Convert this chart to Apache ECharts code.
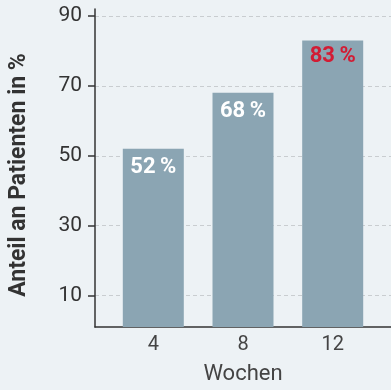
<!DOCTYPE html>
<html>
<head>
<meta charset="utf-8">
<script src="https://cdn.jsdelivr.net/npm/echarts@6/dist/echarts.min.js"></script>
<style>
  html, body { margin: 0; padding: 0; background: #edf2f5; }
  #chart { width: 391px; height: 390px; }
</style>
</head>
<body>
<div id="chart"></div>
<script>
// Weeks of treatment and share of patients (%)
const weeks = [4, 8, 12];
const shares = [52, 68, 83];
const yTicks = [10, 30, 50, 70, 90];
const highlightIndex = 2; // last value shown in red

const barColor = '#8ba5b3';
const red = '#d21c34';
const font = 'Roboto, "Noto Sans", sans-serif';

const barData = weeks.map((w, i) => {
  const item = { value: [w, shares[i]] };
  if (i === highlightIndex) {
    item.label = { color: red, offset: [0, -3] };
  }
  return item;
});

const chart = echarts.init(document.getElementById('chart'));
chart.setOption({
  backgroundColor: '#edf2f5',
  animation: false,
  grid: { left: 92, right: 0, top: 9, bottom: 61 },
  xAxis: {
    type: 'value',
    min: 1.4,
    max: 14.6,
    name: 'Wochen',
    nameLocation: 'middle',
    nameGap: 36,
    nameTextStyle: { fontFamily: font, fontSize: 22, color: '#444' },
    axisLine: { show: true, lineStyle: { color: '#333', width: 1.5 } },
    axisTick: { show: false },
    splitLine: { show: false },
    axisLabel: {
      customValues: weeks,
      fontFamily: font, fontSize: 20, color: '#444', margin: 8
    }
  },
  yAxis: {
    type: 'value',
    min: 1,
    max: 92,
    name: 'Anteil an Patienten in %',
    nameLocation: 'middle',
    nameGap: 64,
    nameTextStyle: {
      fontFamily: font, fontSize: 23, fontWeight: 'bold', color: '#333',
      padding: [0, 14, 0, 0]
    },
    axisLine: { show: true, lineStyle: { color: '#333', width: 1.5 } },
    axisTick: { show: true, customValues: yTicks, length: 7, lineStyle: { color: '#333', width: 1.5 } },
    axisLabel: {
      customValues: yTicks,
      fontFamily: font, fontSize: 21, color: '#333', margin: 13
    },
    splitLine: { show: true, lineStyle: { color: '#c9cdd0', type: [4, 3], width: 1 } }
  },
  series: [{
    type: 'bar',
    barWidth: 61,
    itemStyle: { color: barColor },
    label: {
      show: true,
      position: 'insideTop',
      distance: 8,
      fontFamily: font,
      fontSize: 22,
      fontWeight: 'bold',
      color: '#fff',
      formatter: p => p.value[1] + '\u2009%'
    },
    data: barData
  }]
});
</script>
</body>
</html>
